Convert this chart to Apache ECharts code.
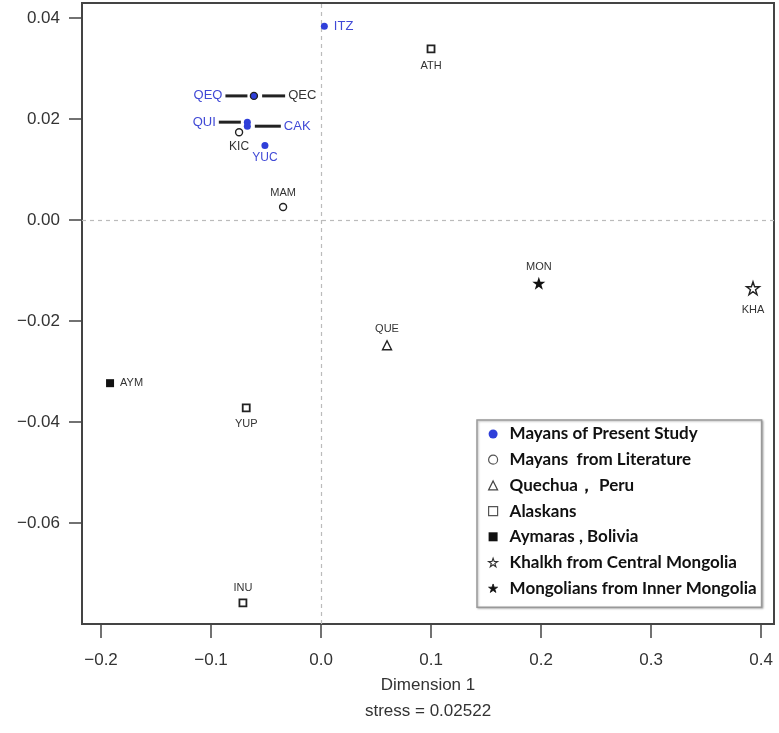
<!DOCTYPE html>
<html><head><meta charset="utf-8">
<script src="https://cdn.jsdelivr.net/npm/echarts@6/dist/echarts.min.js"></script>
<style>html,body{margin:0;padding:0;background:#fff}#c{width:779px;height:733px}</style>
</head><body><div id="c"></div><script>
// ---- data ----
const xTicks = [-0.2, -0.1, 0, 0.1, 0.2, 0.3, 0.4];
const yTicks = [-0.06, -0.04, -0.02, 0, 0.02, 0.04];
const groupNames = ['Mayans of Present Study', 'Mayans  from Literature', 'Quechua\uFF0C Peru', 'Alaskans', 'Aymaras , Bolivia', 'Khalkh from Central Mongolia', 'Mongolians from Inner Mongolia'];

const presentNames = ['ITZ', 'QEQ', 'QUI', 'CAK', 'YUC'];
const presentX = [0.003, -0.061, -0.067, -0.067, -0.051];
const presentY = [0.0384, 0.0246, 0.0194, 0.0186, 0.0148];

const literatureNames = ['QEC', 'KIC', 'MAM'];
const literatureX = [-0.061, -0.0745, -0.0345];
const literatureY = [0.0246, 0.0174, 0.0026];

const quechuaNames = ['QUE'];
const quechuaX = [0.060];
const quechuaY = [-0.0248];

const alaskanNames = ['ATH', 'YUP', 'INU'];
const alaskanX = [0.100, -0.068, -0.071];
const alaskanY = [0.0339, -0.0372, -0.0758];

const aymaraNames = ['AYM'];
const aymaraX = [-0.1918];
const aymaraY = [-0.0323];

const khalkhNames = ['KHA'];
const khalkhX = [0.3927];
const khalkhY = [-0.0135];

const mongolNames = ['MON'];
const mongolX = [0.198];
const mongolY = [-0.0125];

// ---- styles ----
const BLUE = '#2f3fd9';
const BLUE_TXT = '#4049d6';
const DARK = '#333';
const STAR = 'path://M50,2 L61.8,36.2 L97.6,36.2 L68.6,57.4 L79.6,91.6 L50,70.4 L20.4,91.6 L31.4,57.4 L2.4,36.2 L38.2,36.2 Z';
const FONT = '"Liberation Sans", Arial, sans-serif';

function richFor(color, lineW) {
  return {
    n: {fontSize: 13, fontFamily: FONT, verticalAlign: 'middle', color: color},
    s: {width: 3, height: 3, verticalAlign: 'middle'},
    b: {width: lineW, height: 3, backgroundColor: '#222', verticalAlign: 'middle'}
  };
}
const labelStyle = {
  ITZ: {position: 'right', distance: 6, fontSize: 13, color: BLUE_TXT},
  QEQ: {position: 'left', distance: 3, formatter: '{n|QEQ}{s|}{b|}', rich: richFor(BLUE_TXT, 22)},
  QUI: {position: 'left', distance: 3, formatter: '{n|QUI}{s|}{b|}', rich: richFor(BLUE_TXT, 22)},
  CAK: {position: 'right', distance: 4, formatter: '{b|}{s|}{n|CAK}', rich: richFor(BLUE_TXT, 26)},
  YUC: {position: 'bottom', distance: 3, fontSize: 12, color: BLUE_TXT},
  QEC: {position: 'right', distance: 4, formatter: '{b|}{s|}{n|QEC}', rich: richFor(DARK, 23)},
  KIC: {position: 'bottom', distance: 4, fontSize: 12, color: DARK},
  MAM: {position: 'top', distance: 4, fontSize: 11, color: DARK},
  QUE: {position: 'top', distance: 6, fontSize: 11, color: DARK},
  ATH: {position: 'bottom', distance: 7, fontSize: 11, color: DARK},
  YUP: {position: 'bottom', distance: 6, fontSize: 11, color: DARK},
  INU: {position: 'top', distance: 5, fontSize: 11, color: DARK},
  AYM: {position: 'right', distance: 6, fontSize: 11, color: DARK},
  KHA: {position: 'bottom', distance: 9, fontSize: 11, color: DARK},
  MON: {position: 'top', distance: 4, fontSize: 11, color: DARK}
};

function buildData(names, xs, ys) {
  return names.map((n, i) => ({
    name: n,
    value: [xs[i], ys[i]],
    label: Object.assign({show: true, fontFamily: FONT, formatter: n}, labelStyle[n])
  }));
}

function mkSeries(name, names, xs, ys, symbol, size, itemStyle, z) {
  return {
    type: 'scatter', name: name, symbol: symbol, symbolSize: size,
    itemStyle: itemStyle, z: z,
    data: buildData(names, xs, ys),
    emphasis: {disabled: true}
  };
}

const openStyle = {color: '#fff', borderColor: '#222', borderWidth: 1.4, opacity: 1};
const ringStyle = {color: 'rgba(255,255,255,0)', borderColor: '#222', borderWidth: 1.4, opacity: 1};
const squareStyle = {color: '#fff', borderColor: '#222', borderWidth: 1.8, opacity: 1};

const series = [
  mkSeries(groupNames[0], presentNames, presentX, presentY, 'circle', 7, {color: BLUE, opacity: 1}, 3),
  mkSeries(groupNames[1], literatureNames, literatureX, literatureY, 'circle', 7, ringStyle, 4),
  mkSeries(groupNames[2], quechuaNames, quechuaX, quechuaY, 'triangle', 9, openStyle, 3),
  mkSeries(groupNames[3], alaskanNames, alaskanX, alaskanY, 'rect', 7, squareStyle, 3),
  mkSeries(groupNames[4], aymaraNames, aymaraX, aymaraY, 'rect', 8, {color: '#111', opacity: 1}, 3),
  mkSeries(groupNames[5], khalkhNames, khalkhX, khalkhY, STAR, 13, openStyle, 3),
  mkSeries(groupNames[6], mongolNames, mongolX, mongolY, STAR, 13, {color: '#111', opacity: 1}, 3)
];
series[0].markLine = {
  silent: true, symbol: 'none', label: {show: false}, z: 1,
  lineStyle: {type: [4, 4], color: '#bbb', width: 1.2},
  data: [{xAxis: 0}, {yAxis: 0}]
};

const legendIcons = [
  {icon: 'circle', itemStyle: {color: BLUE, borderWidth: 0}},
  {icon: 'circle', itemStyle: {color: '#fff', borderColor: '#555', borderWidth: 1.2}},
  {icon: 'triangle', itemStyle: {color: '#fff', borderColor: '#444', borderWidth: 1.2}},
  {icon: 'rect', itemStyle: {color: '#fff', borderColor: '#555', borderWidth: 1.2}},
  {icon: 'rect', itemStyle: {color: '#111', borderWidth: 0}},
  {icon: STAR, itemStyle: {color: '#fff', borderColor: '#333', borderWidth: 1.1}},
  {icon: STAR, itemStyle: {color: '#111', borderColor: '#111', borderWidth: 0.8}}
];
const legendData = groupNames.map((n, i) => Object.assign({name: n}, legendIcons[i]));

const fmtMinus = s => s.replace('-', '\u2212');

const chart = echarts.init(document.getElementById('c'), null, {renderer: 'canvas'});
chart.setOption({
  animation: false,
  backgroundColor: '#fff',
  grid: {left: 82, top: 3, right: 5, bottom: 109, show: true, borderColor: '#444', borderWidth: 2, containLabel: false, outerBoundsMode: 'none'},
  xAxis: {
    type: 'value', min: -0.2173, max: 0.4118,
    axisLine: {show: false, onZero: false},
    splitLine: {show: false},
    axisTick: {show: true, inside: false, length: 14, lineStyle: {color: '#444', width: 1.5}, customValues: xTicks},
    axisLabel: {customValues: xTicks, margin: 28, fontSize: 17, color: '#333', fontFamily: FONT,
      formatter: v => fmtMinus(v.toFixed(1))},
    name: 'Dimension 1\nstress = 0.02522',
    nameLocation: 'middle', nameGap: 48, nameMoveOverlap: false,
    nameTextStyle: {fontSize: 17, color: '#333', fontFamily: FONT, lineHeight: 26}
  },
  yAxis: {
    type: 'value', min: -0.08, max: 0.043,
    axisLine: {show: false, onZero: false},
    splitLine: {show: false},
    axisTick: {show: true, inside: false, length: 13, lineStyle: {color: '#444', width: 1.5}, customValues: yTicks},
    axisLabel: {customValues: yTicks, margin: 22, fontSize: 17, color: '#333', fontFamily: FONT,
      formatter: v => fmtMinus(v.toFixed(2))}
  },
  legend: {
    show: true, orient: 'vertical', left: 477, top: 420,
    padding: [5, 5, 10, 11],
    itemWidth: 9, itemHeight: 9, itemGap: 7.7,
    symbolKeepAspect: true,
    borderColor: '#999', borderWidth: 1.5, backgroundColor: '#fff',
    shadowColor: 'rgba(0,0,0,0.25)', shadowBlur: 2, shadowOffsetX: 1, shadowOffsetY: 1,
    selectedMode: false,
    textStyle: {fontFamily: 'Lato, "Liberation Sans", sans-serif', fontWeight: 'bold', fontSize: 17, color: '#111', lineHeight: 18, padding: [0, 0, 0, 7]},
    data: legendData
  },
  series: series
});
</script></body></html>
